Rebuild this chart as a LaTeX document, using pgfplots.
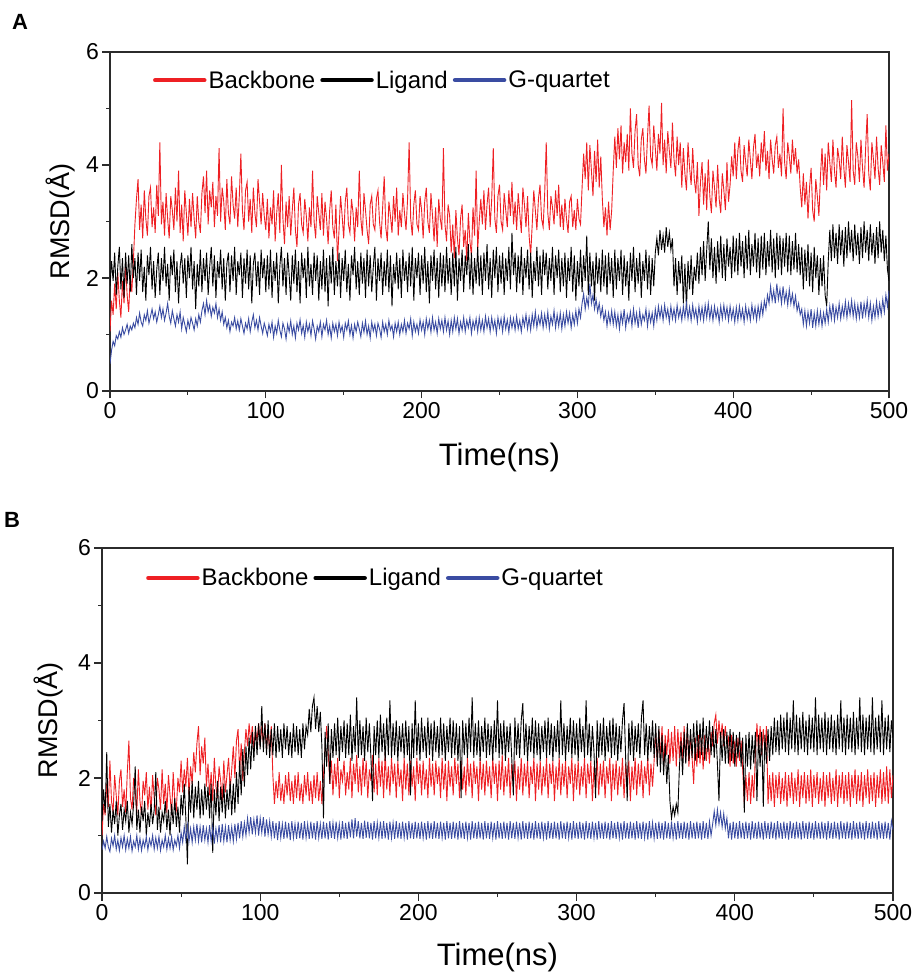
\documentclass[border=0pt]{standalone}
\usepackage{fontspec}
\setmainfont{Liberation Sans}
\usepackage{pgfplots}
\usepackage{pgfplotstable}
\pgfplotsset{compat=1.18}
\definecolor{bbred}{HTML}{EE2024}
\definecolor{gqblue}{HTML}{3A4CA2}
\definecolor{axgray}{HTML}{2B2B2B}

% panel A: t backbone ligand gquartet
\pgfplotstableread{
t bb lig gq
0 1.05 1.85 0.48
1 1.60 2.30 0.72
2 1.35 1.95 0.88
3 1.90 2.45 0.80
4 1.45 1.70 0.98
5 2.10 2.20 0.92
6 1.60 2.55 1.05
7 1.30 1.80 0.95
8 1.95 2.35 1.12
9 1.55 1.65 1.00
10 2.25 2.45 1.08
11 1.70 1.90 1.18
12 1.40 2.40 1.02
13 2.05 1.75 1.15
14 1.75 2.60 1.08
15 2.30 2.00 1.20
16 2.95 2.35 1.12
17 3.40 1.70 1.30
18 3.75 2.45 1.18
19 2.85 1.95 1.38
20 3.30 2.50 1.22
21 2.70 1.75 1.15
22 3.55 2.20 1.35
23 3.05 1.60 1.25
24 2.75 2.40 1.42
25 3.45 2.05 1.20
26 3.60 2.55 1.32
27 2.90 1.80 1.45
28 3.25 2.30 1.28
29 2.80 1.65 1.40
30 3.65 2.15 1.22
31 3.10 2.45 1.35
32 4.40 1.70 1.50
33 2.95 2.35 1.30
34 3.35 1.95 1.45
35 2.75 2.55 1.25
36 3.50 1.85 1.38
37 3.05 2.25 1.55
38 2.70 1.60 1.32
39 3.45 2.40 1.20
40 3.20 2.05 1.42
41 2.85 2.50 1.28
42 3.60 1.75 1.15
43 3.00 2.30 1.35
44 3.90 1.55 1.22
45 2.80 2.20 1.40
46 3.30 2.45 1.10
47 2.65 1.90 1.30
48 3.55 2.35 1.18
49 3.15 1.65 1.05
50 2.75 2.40 1.25
51 3.40 2.00 1.12
52 2.90 2.55 1.30
53 3.50 1.80 1.20
54 3.05 2.30 1.08
55 2.70 1.45 1.28
56 3.45 2.25 1.15
57 3.00 1.85 1.35
58 2.80 2.50 1.22
59 3.50 1.75 1.42
60 3.80 2.35 1.55
61 3.15 1.95 1.35
62 3.90 2.45 1.60
63 2.95 1.70 1.40
64 3.55 2.20 1.52
65 3.25 2.55 1.32
66 3.70 1.85 1.48
67 2.90 2.40 1.38
68 3.45 1.65 1.55
69 3.10 2.30 1.30
70 4.30 2.00 1.45
71 3.00 2.50 1.25
72 3.60 1.80 1.40
73 3.35 2.35 1.18
74 2.85 1.60 1.30
75 3.75 2.25 1.12
76 3.15 2.45 1.25
77 2.95 1.75 1.05
78 3.80 2.40 1.22
79 3.30 1.95 1.15
80 3.05 2.55 1.30
81 3.60 1.70 1.10
82 2.90 2.30 1.24
83 3.45 2.05 1.08
84 4.20 2.45 1.28
85 3.20 1.65 1.15
86 2.85 2.35 1.02
87 3.55 1.90 1.20
88 3.70 2.50 1.10
89 3.00 1.80 1.28
90 3.40 2.40 1.05
91 2.80 1.55 1.22
92 3.60 2.25 1.35
93 3.15 2.45 1.12
94 2.90 1.85 1.25
95 3.75 2.30 1.08
96 3.35 1.70 1.30
97 2.95 2.50 1.15
98 3.50 2.00 1.02
99 3.10 2.35 1.20
100 2.85 1.75 1.10
101 3.40 2.40 0.98
102 2.70 1.80 1.18
103 3.25 2.50 1.05
104 2.95 1.65 1.22
105 3.55 2.30 0.95
106 2.65 1.95 1.15
107 3.15 2.45 1.02
108 3.50 1.55 1.25
109 2.80 2.20 1.08
110 4.00 2.55 0.96
111 3.05 1.85 1.20
112 2.60 2.35 1.10
113 3.35 1.70 0.92
114 2.90 2.45 1.18
115 3.45 2.05 1.05
116 2.75 1.60 1.24
117 3.20 2.40 1.00
118 3.60 1.90 1.15
119 2.85 2.50 0.94
120 2.55 1.75 1.20
121 3.30 2.30 1.08
122 3.50 1.55 1.26
123 2.95 2.45 1.02
124 2.80 2.00 1.16
125 3.40 2.35 0.95
126 3.10 1.65 1.22
127 2.65 2.55 1.05
128 3.25 1.85 1.18
129 2.90 2.25 0.98
130 3.90 1.70 1.24
131 3.00 2.45 1.10
132 2.70 1.95 0.92
133 3.45 2.40 1.15
134 3.15 1.60 1.05
135 2.85 2.30 1.22
136 3.50 1.80 0.96
137 2.75 2.50 1.18
138 3.35 1.75 1.08
139 3.05 2.35 1.25
140 2.60 1.50 1.00
141 3.20 2.40 1.15
142 3.55 1.90 0.94
143 2.90 2.55 1.20
144 2.70 1.70 1.05
145 3.30 2.30 1.18
146 2.30 1.85 0.98
147 2.85 2.45 1.22
148 3.45 1.65 1.05
149 3.10 2.35 1.15
150 2.70 1.95 0.95
151 3.35 2.50 1.20
152 3.60 1.75 1.08
153 2.95 2.25 1.24
154 2.80 1.60 1.00
155 3.40 2.40 1.16
156 3.15 2.05 0.94
157 2.65 2.55 1.18
158 3.25 1.80 1.05
159 2.90 2.30 1.22
160 3.90 1.70 1.10
161 3.05 2.45 0.96
162 2.75 1.90 1.20
163 3.50 2.35 1.04
164 3.20 1.65 1.24
165 2.85 2.50 1.00
166 2.60 1.85 1.15
167 3.30 2.40 0.94
168 3.45 1.75 1.22
169 2.95 2.20 1.06
170 2.85 2.55 1.18
171 3.40 1.60 0.98
172 3.55 2.35 1.20
173 3.00 1.95 1.10
174 2.70 2.45 0.95
175 3.25 1.70 1.22
176 3.80 2.30 1.05
177 2.90 1.85 1.18
178 2.65 2.50 1.00
179 3.35 1.75 1.25
180 3.10 2.40 1.08
181 2.80 1.50 1.16
182 3.45 2.25 0.96
183 3.00 1.90 1.20
184 3.60 2.45 1.05
185 2.75 1.80 1.22
186 3.20 2.35 1.00
187 2.90 1.65 1.18
188 3.50 2.50 1.05
189 3.15 1.95 1.25
190 2.85 2.30 1.02
191 3.40 1.75 1.20
192 4.40 2.45 1.10
193 3.05 1.85 1.28
194 2.75 2.55 0.98
195 3.30 1.60 1.22
196 3.55 2.35 1.05
197 2.95 2.00 1.18
198 2.85 2.45 1.02
199 3.45 1.70 1.26
200 3.20 2.40 1.08
201 2.70 1.90 1.22
202 3.35 2.55 1.00
203 3.60 1.75 1.28
204 3.00 2.30 1.10
205 2.80 1.55 1.25
206 3.50 2.40 1.04
207 3.10 1.95 1.30
208 2.65 2.50 1.08
209 3.25 1.80 1.22
210 2.55 2.35 1.02
211 3.40 1.65 1.28
212 3.05 2.45 1.10
213 2.85 1.85 1.25
214 4.30 2.40 1.05
215 2.95 1.75 1.30
216 2.65 2.55 1.08
217 3.30 1.90 1.24
218 3.10 2.35 1.00
219 2.45 1.70 1.25
220 2.95 2.45 1.05
221 2.35 1.85 1.30
222 3.20 2.55 1.10
223 2.70 1.60 1.28
224 2.40 2.35 1.02
225 3.05 1.95 1.22
226 3.30 2.50 1.08
227 2.55 1.75 1.30
228 2.85 2.40 1.05
229 2.30 2.05 1.25
230 3.15 2.60 1.12
231 2.65 1.80 1.30
232 2.40 2.45 1.02
233 3.25 1.70 1.24
234 2.75 2.35 1.10
235 3.90 1.90 1.28
236 2.50 2.55 1.05
237 3.00 1.85 1.30
238 3.40 2.40 1.08
239 2.95 1.70 1.25
240 3.55 2.45 1.05
241 2.85 1.95 1.32
242 3.30 2.60 1.12
243 3.60 1.80 1.28
244 2.90 2.35 1.05
245 3.40 1.65 1.30
246 4.30 2.50 1.10
247 3.05 2.00 1.25
248 2.80 2.55 1.02
249 3.45 1.75 1.30
250 3.65 2.40 1.12
251 3.00 1.90 1.28
252 2.85 2.45 1.05
253 3.50 1.70 1.32
254 3.20 2.35 1.10
255 2.90 1.95 1.26
256 3.55 2.55 1.04
257 3.10 1.80 1.30
258 3.70 2.80 1.12
259 2.95 2.05 1.28
260 3.35 2.45 1.08
261 2.85 1.75 1.32
262 3.50 2.40 1.10
263 3.15 1.90 1.25
264 2.80 2.55 1.05
265 3.60 1.70 1.30
266 3.30 2.35 1.15
267 2.90 2.00 1.35
268 3.45 2.50 1.10
269 2.75 1.80 1.30
270 2.40 2.45 1.08
271 2.95 1.65 1.35
272 3.55 2.30 1.15
273 3.20 1.95 1.40
274 2.85 2.55 1.12
275 3.40 1.85 1.32
276 3.65 2.40 1.18
277 3.05 1.70 1.38
278 2.90 2.50 1.12
279 3.50 2.05 1.35
280 4.40 2.45 1.15
281 3.15 1.80 1.40
282 2.85 2.35 1.10
283 3.45 1.95 1.32
284 3.25 2.55 1.18
285 2.95 1.70 1.42
286 3.55 2.40 1.12
287 3.10 2.00 1.35
288 3.65 2.50 1.15
289 2.90 1.75 1.38
290 3.30 2.35 1.10
291 2.85 1.85 1.35
292 3.40 2.45 1.15
293 3.05 1.65 1.40
294 2.80 2.35 1.20
295 3.35 1.95 1.38
296 3.45 2.55 1.12
297 2.90 1.75 1.35
298 3.20 2.40 1.18
299 2.85 1.60 1.42
300 3.40 2.30 1.20
301 3.05 1.85 1.45
302 2.95 2.50 1.30
303 3.60 1.75 1.55
304 4.20 2.40 1.72
305 3.75 1.95 1.45
306 4.40 2.75 1.65
307 3.55 1.70 1.50
308 4.35 2.45 1.90
309 3.90 1.85 1.55
310 3.45 2.30 1.70
311 4.25 1.60 1.45
312 3.70 2.45 1.62
313 4.45 1.90 1.40
314 3.60 2.35 1.55
315 4.15 1.75 1.32
316 3.40 2.50 1.48
317 2.90 1.85 1.25
318 3.25 2.40 1.40
319 2.75 1.70 1.15
320 3.35 2.45 1.38
321 2.85 1.90 1.20
322 3.20 2.35 1.42
323 3.90 1.65 1.18
324 4.50 2.50 1.40
325 3.95 1.80 1.15
326 4.65 2.35 1.35
327 4.10 1.95 1.10
328 4.70 2.50 1.38
329 3.85 1.70 1.20
330 4.40 2.40 1.45
331 4.05 1.85 1.12
332 4.55 2.30 1.35
333 3.90 1.60 1.22
334 5.00 2.45 1.40
335 4.20 1.95 1.15
336 3.95 2.55 1.45
337 4.60 1.75 1.20
338 4.90 2.35 1.38
339 4.00 1.90 1.12
340 3.80 2.45 1.42
341 4.45 1.65 1.18
342 4.65 2.30 1.35
343 4.10 1.95 1.25
344 3.85 2.50 1.45
345 4.50 1.80 1.15
346 5.05 2.40 1.40
347 4.15 1.70 1.22
348 4.00 2.35 1.38
349 4.70 1.85 1.15
350 4.30 2.45 1.45
351 3.90 2.70 1.25
352 4.55 2.40 1.50
353 4.20 2.85 1.30
354 5.10 2.50 1.48
355 4.00 2.75 1.25
356 4.45 2.45 1.52
357 3.85 2.90 1.30
358 4.60 2.55 1.45
359 4.25 2.80 1.22
360 3.95 2.50 1.50
361 4.75 2.70 1.28
362 4.10 1.85 1.45
363 3.80 2.35 1.25
364 4.50 1.70 1.52
365 4.00 2.30 1.30
366 4.40 1.90 1.45
367 3.60 2.40 1.25
368 4.30 1.55 1.50
369 3.85 2.25 1.30
370 3.55 1.45 1.55
371 4.40 2.30 1.28
372 3.95 1.80 1.48
373 3.65 2.40 1.25
374 4.30 1.70 1.52
375 3.75 2.20 1.30
376 3.50 1.95 1.45
377 4.05 2.45 1.22
378 3.10 1.90 1.50
379 3.70 2.55 1.28
380 4.05 2.05 1.48
381 3.30 2.65 1.25
382 3.85 1.95 1.52
383 3.20 2.50 1.30
384 4.10 3.00 1.55
385 3.45 2.15 1.28
386 3.15 2.70 1.48
387 3.90 2.00 1.25
388 3.60 2.55 1.50
389 3.25 1.90 1.30
390 4.00 2.65 1.45
391 3.40 2.10 1.22
392 3.15 2.75 1.50
393 3.85 2.00 1.28
394 3.55 2.60 1.52
395 3.20 1.95 1.30
396 4.05 2.70 1.48
397 3.35 2.20 1.25
398 3.65 2.55 1.50
399 4.15 2.00 1.28
400 3.80 2.75 1.45
401 4.40 2.10 1.22
402 3.75 2.70 1.48
403 4.25 2.05 1.25
404 4.50 2.80 1.50
405 3.90 2.20 1.28
406 3.70 2.65 1.45
407 4.35 2.00 1.22
408 4.05 2.75 1.50
409 3.80 2.15 1.28
410 4.45 2.85 1.45
411 4.10 2.05 1.25
412 3.75 2.60 1.52
413 4.30 2.20 1.30
414 4.55 2.80 1.48
415 3.95 2.10 1.25
416 4.20 2.70 1.50
417 3.80 2.00 1.30
418 4.40 2.75 1.55
419 4.05 2.15 1.35
420 4.60 2.80 1.60
421 3.90 2.05 1.45
422 4.25 2.65 1.70
423 3.75 2.20 1.55
424 4.45 2.85 1.85
425 4.10 2.10 1.60
426 3.85 2.70 1.78
427 4.35 2.00 1.55
428 4.50 2.80 1.90
429 3.95 2.15 1.62
430 4.20 2.75 1.80
431 3.80 2.05 1.55
432 5.00 2.70 1.85
433 4.05 2.20 1.58
434 3.75 2.80 1.75
435 4.40 2.10 1.52
436 4.15 2.75 1.80
437 3.85 2.05 1.55
438 4.45 2.65 1.72
439 4.00 2.15 1.50
440 4.30 2.80 1.68
441 3.85 2.10 1.42
442 4.10 2.60 1.55
443 3.60 2.05 1.35
444 3.25 2.55 1.45
445 3.85 1.80 1.18
446 3.30 2.50 1.42
447 3.70 1.95 1.15
448 3.05 2.60 1.40
449 3.60 1.85 1.20
450 3.95 2.45 1.45
451 3.20 1.75 1.12
452 3.00 2.55 1.38
453 3.75 2.00 1.15
454 3.45 2.40 1.42
455 3.10 1.70 1.18
456 3.80 2.35 1.40
457 4.30 1.85 1.15
458 3.65 2.40 1.38
459 4.20 1.70 1.20
460 3.55 1.50 1.45
461 4.40 2.30 1.22
462 4.05 2.85 1.50
463 3.70 2.30 1.28
464 4.45 2.95 1.55
465 3.90 2.35 1.25
466 3.60 2.80 1.48
467 4.30 2.25 1.30
468 4.10 2.95 1.55
469 3.75 2.40 1.28
470 4.50 2.85 1.50
471 3.95 2.20 1.32
472 3.60 2.90 1.58
473 4.35 2.35 1.30
474 4.05 3.00 1.55
475 3.70 2.45 1.35
476 5.15 2.85 1.60
477 3.90 2.30 1.32
478 3.65 2.95 1.55
479 4.40 2.40 1.28
480 4.15 2.80 1.52
481 3.70 2.25 1.30
482 4.45 2.90 1.58
483 3.95 2.35 1.28
484 3.60 3.00 1.55
485 4.30 2.45 1.35
486 4.90 2.85 1.60
487 3.85 2.30 1.30
488 3.55 2.95 1.55
489 4.40 2.40 1.25
490 4.10 2.80 1.50
491 3.75 2.25 1.30
492 4.50 2.90 1.58
493 3.95 2.35 1.32
494 3.65 3.00 1.55
495 4.35 2.45 1.35
496 4.05 2.85 1.62
497 3.70 2.30 1.40
498 4.70 2.75 1.70
499 3.90 2.15 1.50
500 4.20 1.95 1.78
}\tabA

% panel B
\pgfplotstableread{
t bb lig gq
0 1.00 1.25 0.75
1 1.55 1.80 0.90
2 1.35 1.40 0.78
3 1.90 2.45 0.98
4 1.50 1.15 0.80
5 2.30 1.55 0.72
6 1.60 1.05 0.95
7 1.40 1.45 0.82
8 2.05 1.20 1.00
9 1.70 1.60 0.76
10 1.35 1.00 0.92
11 1.95 1.35 0.74
12 2.15 1.55 0.96
13 1.50 1.10 0.80
14 1.80 1.45 1.00
15 1.40 1.25 0.75
16 2.10 1.60 0.94
17 2.65 1.05 0.78
18 1.65 1.40 0.98
19 1.45 1.20 0.73
20 2.00 1.55 0.90
21 1.75 2.20 0.80
22 1.40 1.10 1.00
23 2.15 1.45 0.76
24 1.60 1.05 0.95
25 1.35 1.50 0.74
26 1.95 1.25 0.92
27 1.70 1.60 0.80
28 2.10 1.00 0.98
29 1.45 1.40 0.75
30 1.85 1.15 0.94
31 1.40 1.55 0.82
32 2.05 1.20 1.00
33 1.65 1.45 0.76
34 1.35 2.10 0.96
35 2.00 1.10 0.78
36 1.80 1.50 0.98
37 1.45 1.05 0.74
38 2.15 1.40 0.92
39 1.55 1.25 0.80
40 1.90 1.60 1.00
41 1.40 1.10 0.76
42 2.05 1.45 0.95
43 1.70 1.00 0.78
44 1.35 1.55 0.98
45 2.10 1.20 0.75
46 1.60 1.65 0.92
47 1.45 1.15 0.82
48 2.00 1.50 1.00
49 1.75 1.05 0.78
50 2.30 1.70 1.05
51 1.75 1.35 0.88
52 2.15 1.90 1.15
53 1.85 1.30 0.92
54 2.35 0.50 1.18
55 1.70 1.85 0.90
56 2.20 1.40 1.12
57 1.90 1.95 0.88
58 2.45 1.30 1.15
59 2.10 1.85 0.92
60 2.60 1.45 1.20
61 2.90 1.95 0.90
62 2.05 1.30 1.15
63 2.55 1.80 0.88
64 2.25 1.35 1.18
65 2.70 1.90 0.92
66 1.85 1.45 1.12
67 2.25 1.85 0.88
68 1.70 1.30 1.18
69 2.10 1.90 0.90
70 1.60 0.70 1.15
71 2.35 1.80 0.86
72 1.85 1.35 1.12
73 1.65 1.95 0.92
74 2.20 1.25 1.18
75 1.95 1.85 0.88
76 1.60 1.40 1.20
77 2.30 1.90 0.90
78 1.75 1.30 1.15
79 2.05 1.80 0.88
80 2.35 1.45 1.18
81 1.80 1.95 0.92
82 2.15 1.35 1.15
83 2.55 1.90 0.90
84 2.00 1.40 1.20
85 2.65 2.10 0.94
86 2.85 1.55 1.22
87 2.10 2.30 0.95
88 2.60 1.70 1.25
89 1.95 2.50 0.98
90 2.45 1.85 1.22
91 2.85 2.55 1.00
92 2.55 2.05 1.30
93 2.95 2.70 1.05
94 2.60 2.15 1.32
95 2.90 2.80 1.02
96 2.50 2.30 1.28
97 2.85 2.90 1.05
98 2.65 2.40 1.35
99 2.95 2.95 1.00
100 2.55 2.50 1.30
101 2.90 3.25 1.05
102 2.60 2.45 1.32
103 2.95 2.95 0.98
104 2.50 2.40 1.28
105 2.85 3.00 1.02
106 2.45 2.35 1.25
107 2.90 2.85 0.98
108 2.05 2.40 1.25
109 1.55 2.95 0.95
110 1.95 2.35 1.22
111 1.65 2.90 0.92
112 2.10 2.45 1.25
113 1.60 2.85 0.96
114 1.90 2.35 1.20
115 1.55 2.95 0.94
116 2.05 2.50 1.24
117 1.70 2.90 0.95
118 2.10 2.40 1.22
119 1.60 2.80 0.92
120 1.95 2.35 1.25
121 1.55 2.95 0.96
122 2.05 2.45 1.20
123 1.65 2.90 0.94
124 2.10 2.40 1.24
125 1.60 2.85 0.95
126 1.90 2.35 1.22
127 1.55 2.95 0.93
128 2.05 2.50 1.25
129 1.70 2.90 0.96
130 2.10 2.75 1.20
131 1.60 3.20 0.94
132 1.95 2.80 1.24
133 1.55 3.25 0.95
134 2.05 3.40 1.22
135 1.65 2.85 0.93
136 2.10 3.25 1.25
137 1.60 2.80 0.96
138 1.95 3.15 1.20
139 1.55 2.55 0.94
140 2.05 1.30 1.24
141 2.50 2.80 0.95
142 2.90 2.20 1.22
143 2.45 2.95 0.93
144 1.90 1.90 1.25
145 2.30 2.85 0.96
146 1.70 2.35 1.22
147 2.25 2.95 0.94
148 1.85 2.40 1.24
149 2.35 3.05 0.96
150 1.65 2.30 1.20
151 2.15 2.90 0.93
152 1.95 2.45 1.25
153 2.30 3.00 0.95
154 1.70 2.35 1.22
155 2.10 2.95 0.94
156 1.80 2.40 1.24
157 2.35 3.10 0.97
158 1.65 2.30 1.28
159 2.25 2.90 0.95
160 1.90 2.45 1.30
161 2.40 3.40 0.98
162 1.75 2.35 1.25
163 2.20 3.00 0.95
164 1.70 2.40 1.22
165 2.35 2.90 0.94
166 1.85 2.30 1.26
167 2.30 3.05 0.96
168 1.65 2.45 1.24
169 2.15 2.95 0.95
170 1.95 2.35 1.22
171 2.40 1.60 0.93
172 1.75 2.90 1.25
173 2.25 2.40 0.95
174 1.70 3.00 1.22
175 2.35 2.35 0.96
176 1.85 3.10 1.24
177 2.30 2.45 0.94
178 1.65 2.95 1.25
179 2.45 2.30 0.95
180 1.80 3.05 1.22
181 2.20 2.40 0.93
182 1.70 3.35 1.24
183 2.35 2.35 0.96
184 1.90 2.95 1.22
185 2.25 2.40 0.94
186 1.65 3.00 1.25
187 2.30 2.30 0.95
188 1.85 2.90 1.22
189 2.15 2.45 0.94
190 1.60 2.95 1.24
191 2.35 2.35 0.96
192 1.80 3.00 1.22
193 2.25 2.40 0.93
194 1.70 2.90 1.25
195 2.30 1.70 0.95
196 1.85 2.95 1.22
197 2.20 2.35 0.94
198 1.60 3.35 1.24
199 2.35 2.40 0.95
200 1.90 2.95 1.22
201 2.25 2.30 0.94
202 1.70 3.05 1.24
203 2.30 2.45 0.96
204 1.80 2.90 1.22
205 2.15 2.35 0.93
206 1.65 3.05 1.25
207 2.35 2.40 0.95
208 1.85 2.95 1.22
209 2.25 2.30 0.94
210 1.70 3.00 1.25
211 2.30 2.45 0.95
212 1.90 2.90 1.22
213 2.20 2.35 0.94
214 1.65 3.05 1.24
215 2.35 2.40 0.96
216 1.80 2.95 1.22
217 2.25 2.30 0.93
218 1.60 2.90 1.25
219 2.30 2.45 0.95
220 1.85 3.05 1.22
221 2.20 2.35 0.94
222 1.70 3.00 1.24
223 2.35 2.40 0.95
224 1.90 2.95 1.22
225 2.25 2.30 0.93
226 1.65 2.90 1.25
227 2.30 1.65 0.95
228 1.80 3.00 1.22
229 2.20 2.40 0.94
230 1.70 2.95 1.24
231 2.35 2.35 0.96
232 1.85 3.05 1.22
233 2.25 2.45 0.93
234 1.65 3.40 1.25
235 2.30 2.35 0.95
236 1.90 2.95 1.22
237 2.20 2.40 0.94
238 1.60 3.00 1.24
239 2.35 2.30 0.95
240 1.80 2.90 1.22
241 2.25 2.45 0.93
242 1.70 3.05 1.25
243 2.30 2.35 0.95
244 1.85 2.95 1.22
245 2.20 2.40 0.94
246 1.65 2.90 1.24
247 2.35 2.30 0.96
248 1.90 3.00 1.22
249 2.25 2.45 0.93
250 1.60 3.35 1.25
251 2.30 2.35 0.95
252 1.80 2.95 1.22
253 2.40 2.40 0.94
254 1.70 3.00 1.24
255 2.20 2.30 0.95
256 1.85 2.90 1.22
257 2.35 2.45 0.93
258 1.65 2.95 1.25
259 2.25 2.35 0.95
260 1.90 1.70 1.22
261 2.30 3.05 0.94
262 1.60 2.40 1.24
263 2.20 2.95 0.96
264 1.80 2.35 1.22
265 2.35 3.00 0.93
266 1.70 3.30 1.25
267 2.25 2.40 0.95
268 1.85 2.95 1.22
269 2.30 2.30 0.94
270 1.65 2.90 1.24
271 2.20 2.45 0.95
272 1.90 3.05 1.22
273 2.35 2.35 0.93
274 1.60 3.00 1.25
275 2.25 2.40 0.95
276 1.80 2.95 1.22
277 2.30 2.30 0.94
278 1.70 2.90 1.24
279 2.20 2.45 0.96
280 1.85 3.00 1.22
281 2.35 2.35 0.93
282 1.65 3.05 1.25
283 2.25 2.40 0.95
284 1.90 2.95 1.22
285 2.30 2.30 0.94
286 1.60 2.90 1.24
287 2.20 2.45 0.95
288 1.80 3.00 1.22
289 2.35 2.35 0.93
290 1.70 3.35 1.25
291 2.25 2.40 0.95
292 1.85 2.95 1.22
293 2.30 2.30 0.94
294 1.65 2.90 1.24
295 2.20 2.45 0.96
296 1.90 3.05 1.22
297 2.35 2.35 0.93
298 1.60 3.00 1.25
299 2.25 2.40 0.95
300 1.80 2.95 1.22
301 2.30 2.30 0.94
302 1.70 3.05 1.24
303 2.20 2.45 0.95
304 1.85 2.90 1.22
305 2.35 2.35 0.93
306 1.65 3.35 1.25
307 2.25 2.40 0.95
308 1.90 2.95 1.22
309 2.30 2.30 0.94
310 1.60 2.90 1.24
311 2.20 2.45 0.96
312 1.80 1.65 1.22
313 2.35 3.00 0.93
314 1.70 2.35 1.25
315 2.25 2.95 0.95
316 1.85 2.40 1.22
317 2.30 3.05 0.94
318 1.65 2.30 1.24
319 2.20 2.90 0.95
320 1.90 2.45 1.22
321 2.35 3.00 0.93
322 1.60 2.35 1.25
323 2.25 3.05 0.95
324 1.80 2.40 1.22
325 2.30 2.95 0.94
326 1.70 2.30 1.24
327 2.20 2.90 0.96
328 1.85 2.45 1.22
329 2.35 3.00 0.93
330 1.65 3.30 1.25
331 2.25 2.35 0.95
332 1.90 1.60 1.22
333 2.30 2.95 0.94
334 1.60 2.40 1.24
335 2.20 3.00 0.95
336 1.80 2.30 1.22
337 2.35 2.90 0.93
338 1.70 2.45 1.25
339 2.25 2.95 0.95
340 1.85 2.35 1.22
341 2.30 3.05 0.94
342 1.65 3.35 1.24
343 2.20 2.40 0.96
344 1.90 2.95 1.22
345 2.35 2.30 0.93
346 1.70 2.90 1.25
347 2.25 2.45 0.95
348 1.85 3.00 1.22
349 2.30 2.35 0.95
350 2.80 2.95 1.22
351 2.25 2.20 0.94
352 2.85 2.90 1.24
353 2.35 2.10 0.95
354 2.90 2.75 1.22
355 2.20 2.05 0.93
356 2.75 2.60 1.25
357 2.40 1.90 0.95
358 2.85 2.40 1.22
359 2.25 1.60 0.94
360 2.80 1.30 1.24
361 2.30 1.50 0.96
362 2.90 1.35 1.22
363 2.20 1.55 0.93
364 2.85 1.40 1.25
365 2.35 2.20 0.95
366 2.80 2.65 1.22
367 2.25 2.05 0.94
368 2.90 2.80 1.24
369 2.30 2.25 0.95
370 2.85 2.95 1.22
371 2.20 2.30 0.93
372 2.75 2.85 1.25
373 2.35 2.35 0.95
374 1.90 2.95 1.22
375 2.70 2.30 0.94
376 2.20 3.00 1.24
377 2.75 2.35 0.95
378 2.25 2.95 1.22
379 2.70 2.40 0.93
380 2.15 3.05 1.25
381 2.75 2.30 0.95
382 2.30 2.90 1.22
383 2.70 2.45 0.94
384 2.25 3.00 1.24
385 2.80 2.40 1.00
386 2.55 2.90 1.20
387 2.95 2.35 1.42
388 3.10 2.85 1.18
389 2.60 2.25 1.45
390 3.00 1.60 1.20
391 2.65 2.80 1.40
392 2.95 2.30 1.15
393 2.55 2.85 1.38
394 2.90 2.25 1.12
395 2.60 2.80 1.30
396 2.70 2.25 0.95
397 2.20 2.85 1.22
398 2.75 2.30 0.93
399 2.25 2.80 1.24
400 2.65 2.20 0.95
401 2.20 2.75 1.22
402 2.70 2.35 0.94
403 2.30 2.80 1.25
404 2.65 2.20 0.95
405 2.15 2.70 1.22
406 1.55 1.40 0.94
407 2.05 2.75 1.24
408 1.60 2.20 0.95
409 2.10 2.80 1.22
410 1.55 2.15 0.93
411 2.05 2.75 1.25
412 1.65 2.25 0.95
413 2.40 2.80 1.22
414 2.95 1.60 0.94
415 2.45 2.75 1.24
416 2.90 2.20 0.95
417 2.40 2.80 1.22
418 2.85 1.50 0.93
419 2.45 2.75 1.25
420 2.90 2.25 0.95
421 1.55 2.85 1.22
422 2.05 2.30 0.94
423 1.60 2.90 1.24
424 2.10 2.40 0.95
425 1.50 3.05 1.22
426 2.05 2.45 0.93
427 1.65 3.00 1.25
428 2.10 2.40 0.95
429 1.55 3.10 1.22
430 2.00 2.50 0.94
431 1.60 3.05 1.24
432 2.10 2.45 0.95
433 1.50 3.15 1.22
434 2.05 2.40 0.93
435 1.65 3.05 1.25
436 2.10 2.50 0.95
437 1.55 3.35 1.22
438 2.00 2.45 0.94
439 1.60 3.10 1.24
440 2.15 2.40 0.95
441 1.50 3.05 1.22
442 2.05 2.50 0.93
443 1.65 3.15 1.25
444 2.10 2.45 0.95
445 1.55 3.00 1.22
446 2.05 2.40 0.94
447 1.60 3.10 1.24
448 2.15 2.50 0.95
449 1.50 3.05 1.22
450 2.05 2.45 0.93
451 1.65 3.40 1.25
452 2.10 2.40 0.95
453 1.55 3.10 1.22
454 2.00 2.50 0.94
455 1.60 3.05 1.24
456 2.10 2.45 0.95
457 1.50 3.15 1.22
458 2.05 2.40 0.93
459 1.65 3.05 1.25
460 2.10 2.50 0.95
461 1.55 3.10 1.22
462 2.00 2.45 0.94
463 1.60 3.00 1.24
464 2.15 2.40 0.95
465 1.50 3.10 1.22
466 2.05 2.50 0.93
467 1.65 3.35 1.25
468 2.10 2.45 0.95
469 1.55 3.05 1.22
470 2.05 2.40 0.94
471 1.60 3.10 1.24
472 2.10 2.50 0.95
473 1.50 3.05 1.22
474 2.05 2.45 0.93
475 1.65 3.15 1.25
476 2.15 2.40 0.95
477 1.55 3.05 1.22
478 2.05 2.50 0.94
479 1.60 3.40 1.24
480 2.10 2.45 0.95
481 1.50 3.10 1.22
482 2.05 2.40 0.93
483 1.65 3.05 1.25
484 2.15 2.50 0.95
485 1.55 3.10 1.22
486 2.05 2.45 0.94
487 1.60 3.40 1.24
488 2.10 2.40 0.95
489 1.50 3.05 1.22
490 2.05 2.50 0.93
491 1.65 3.10 1.25
492 2.15 2.45 0.95
493 1.55 3.35 1.22
494 2.10 2.40 0.94
495 1.60 3.05 1.24
496 2.20 2.50 0.95
497 1.55 3.10 1.22
498 2.15 2.45 0.93
499 1.65 3.00 1.25
500 2.05 2.70 1.10
}\tabB

\pgfplotsset{
  rmsdstyle/.style={
    scale only axis,
    anchor=south west,
    xmin=0, xmax=500, ymin=0, ymax=6,
    xtick={0,100,...,500}, ytick={0,2,4,6},
    minor x tick num=1, minor y tick num=1,
    tick align=outside, xtick pos=bottom, ytick pos=left,
    major tick length=7.5pt, minor tick length=4pt,
    every tick/.style={axgray, line width=1.1pt},
    axis line style={axgray, line width=1.3pt},
    /pgf/number format/assume math mode=true,
    ticklabel style={font=\fontsize{23}{23}\selectfont},
    xlabel={Time(ns)}, ylabel={RMSD(Å)},
    xlabel style={font=\fontsize{31}{31}\selectfont, anchor=center},
    ylabel style={font=\fontsize{27}{27}\selectfont, anchor=center},
    legend columns=3,
    legend image code/.code={\draw[#1, line width=4.5pt, line cap=round] (1pt,0pt) -- (50pt,0pt);},
    legend style={draw=none, fill=none, inner sep=0pt, anchor=west,
      font=\fontsize{24}{24}\selectfont,
      /tikz/every even column/.append style={column sep=3pt}},
  }
}

\begin{document}
\begin{tikzpicture}
\path[use as bounding box] (0pt,0pt) rectangle (914pt,974pt);

\begin{axis}[rmsdstyle,
  at={(110pt,583pt)}, width=779pt, height=339pt,
  xlabel style={at={(axis description cs:0.5,-0.195)}},
  ylabel style={at={(axis description cs:-0.064,0.5)}},
  legend style={at={(axis description cs:0.055,0.917)}}]
\addplot[bbred, line width=0.9pt] table[x=t, y=bb] {\tabA};
\addlegendentry{Backbone}
\addplot[black, line width=0.9pt] table[x=t, y=lig] {\tabA};
\addlegendentry{Ligand}
\addplot[gqblue, line width=0.9pt] table[x=t, y=gq] {\tabA};
\addlegendentry{G-quartet}
\end{axis}

\begin{axis}[rmsdstyle,
  at={(102pt,81pt)}, width=791pt, height=345pt,
  xlabel style={at={(axis description cs:0.5,-0.188)}},
  ylabel style={at={(axis description cs:-0.068,0.5)}},
  legend style={at={(axis description cs:0.0556,0.913)}}]
\addplot[bbred, line width=0.9pt] table[x=t, y=bb] {\tabB};
\addlegendentry{Backbone}
\addplot[black, line width=0.9pt] table[x=t, y=lig] {\tabB};
\addlegendentry{Ligand}
\addplot[gqblue, line width=0.9pt] table[x=t, y=gq] {\tabB};
\addlegendentry{G-quartet}
\end{axis}

\node[font=\bfseries\fontsize{22}{22}\selectfont] at (20pt,952pt) {A};
\node[font=\bfseries\fontsize{22}{22}\selectfont] at (12pt,454pt) {B};
\end{tikzpicture}
\end{document}
